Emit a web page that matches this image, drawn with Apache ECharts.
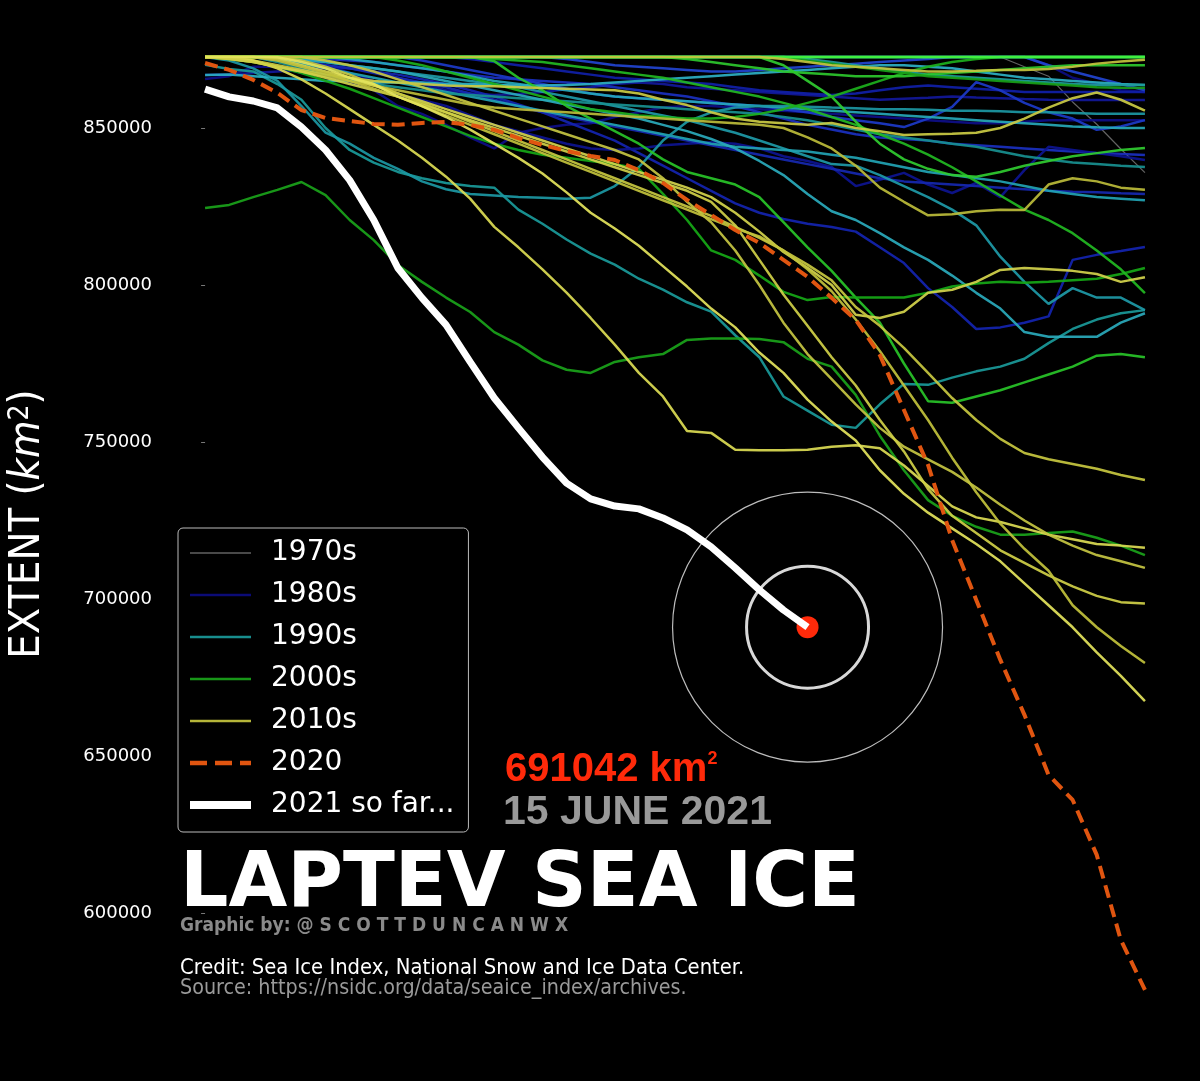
<!DOCTYPE html>
<html>
<head>
<meta charset="utf-8">
<title>Laptev Sea Ice</title>
<script src="https://cdn.jsdelivr.net/npm/echarts@6/dist/echarts.min.js"></script>
<style>
html, body { margin: 0; padding: 0; background: #000; }
#chart { width: 1200px; height: 1081px; }
</style>
</head>
<body>
<div id="chart"></div>
<script>
// extent values in thousand km2, one value per day (day 0 .. 39)
var T = 872.6; // fully ice covered

var ext1979 = [T,T,T,T,T,T,T,T,T,T, T,T,T,T,T,T,T,T,T,T, T,T,T,T,T,T,T,T,T,T, T,T,T,T,869.5,866.5,858.3,851.2,843.3,835.8];

var ext1980 = [T,T,T,T,T,T,T,T,T,T, T,T,T,T,T,T,T,T,T,T, T,T,T,T,T,T,T,T,T,T, T,T,T,T,T,870,866,864,862,861.5];
var ext1981 = [866.9,867,867.5,868,868.5,869,869,868,866,864, 862,861,860.5,860.8,861.5,862.3,863,864,864.5,864, 863,862.5,862,861.5,861,860.5,860,859.5,859,859.3, 859.6,860,859.7,859.5,859.2,859,858.9,858.9,858.9,858.9];
var ext1982 = [865.6,866.5,869.5,869.5,867.5,866.5,864.5,862,857,854.5, 851,847,843.5,848.5,850,851,851.5,853.5,855,856.5, 857,857,856.5,856,855.5,855,854.5,854,853.5,853, 852.5,852,851.5,851.5,852,852.5,852.5,852.5,852.5,852.5];
var ext1983 = [T,T,T,872,871,870,869,868,867,865.5, 864,862,860,857.5,855,852,849,846,842,838, 834,830,826,823,821,819.5,818.5,817,812,807, 799,793,786,786.5,788,790,808,809.6,810.8,812.1];
var ext1984 = [T,T,T,T,T,872,871.5,871,870,869, 868,867,866,865.5,865,864.5,864,863,862,861, 860,858.5,857,855,853,851,849.5,848,847,846.5, 846,845,844.5,844,843.5,843,842.5,842,841.7,841.4];
var ext1985 = [T,T,T,T,T,T,T,T,T,T, T,872,871,870,869,868,867,866,865.5,865, 864.5,864,863,862,861.5,861,860.5,861,862,863, 863.5,863,862.5,862,861.5,861.5,861.5,861.5,861.5,861.5];
var ext1986 = [T,T,T,T,T,T,T,T,T,871.5, 870,868.5,867,865.5,864,862.5,861,860,859.5,859, 858.5,858,857.5,857,856,855,853.5,852.5,851.5,850.3, 853,856.7,864.6,862,858,855,853,849.4,850.5,852.5];
var ext1987 = [T,T,T,T,T,870,867.5,865,860.5,858.9, 857,854,851,849,847,845,843.5,843,843.5,844.5, 845,845.5,845,843.5,841,839.5,837.6,831.5,833.5,835.7, 832,829.3,832.5,828,836.6,844,843,842,841,839.8];
var ext1988 = [T,T,T,T,T,T,T,T,T,T, T,T,T,T,T,872,871,870,869.5,869, 868.5,868,868,868.5,869,869.5,870,870.5,871,871.5, 872,T,T,T,T,870,868,866,864,862];
var ext1989 = [T,T,T,872,871,870,869,867.5,866,864.5, 863,861,859,857,855,853.5,852,850.5,849,847.5, 846,844.5,843,841.5,840,838.5,837,835.5,834,833, 832.5,832,831.5,831,830.5,830,829.7,829.5,829.2,829];

var ext1990 = [870.1,868.8,868,864,859,850,843,839,836,834, 832.5,831.5,831,824,819.5,814.5,810,806.5,802,798.5, 794.5,791.5,784,777,764.5,760,755.5,754.5,762,768.5, 768.2,770.5,772.5,774,776.5,781.5,786,789,791,792];
var ext1991 = [T,T,T,872,871.5,871,870,869,868,867, 866,865,864,863,861.5,860,858.5,857,855.5,854, 852.5,850.5,848.5,846,843.5,841,838.5,838,835,831.5, 828,824,819,809,801,794,799,796,796,792];
var ext1992 = [T,T,T,T,870.5,869,867.5,866,864.5,863, 861.5,860,858.5,857,855.5,854,852.5,851,849.5,848, 846.5,845,844,843.5,843,842.5,841.5,840.5,839,837.5, 836,835,834,833,831.5,830,829,828,827.5,827];
var ext1993 = [T,T,T,871,869,867,865.5,864,863,862, 861,860.5,860,859.5,859,858.5,858,857.5,857,856.5, 856,855.5,855,854.5,853.5,852.5,851,849.5,848,847, 846,845,844,842.5,841,840,839,838.5,838,837.6];
var ext1994 = [T,T,T,T,T,T,872,871,870,869, 868,866.5,865,864,863,862,861,860,859.5,859, 858.5,858,857.5,857,856.5,856,855.5,855,854.5,854, 853.5,853,852.5,852,851.5,851,850.5,850.2,850,850];
var ext1995 = [866.9,867,866.5,866,865.5,865,865,864.5,864.5,864.5, 864,864,863.7,863.5,863.5,863.7,864,864.5,865,865.5, 866,866.5,867,867.5,868,868.5,869,869.5,870,870, 869.5,869,868,867,866,865.5,865,864.5,864,863.7];
var ext1996 = [T,871.5,869,865,857,848.5,845,840.5,837,833, 830.5,829,828.5,828,827.8,827.5,827.8,831.5,837.5,846, 852,855,856.5,857,857,856.8,856.5,856.3,856,856, 855.8,855.5,855.5,855.3,855,855,854.8,854.5,854.5,854.5];
var ext1997 = [T,T,T,T,872,871,870,869,868,866.5, 865,863.5,862,860.5,859,857.5,856,854.5,853,851, 849,846.5,843.5,839.5,835,829,823.5,820.7,816.5,812, 808,803,797.5,792.5,785,783.5,783.5,783.5,788,791];
var ext1998 = [T,T,T,T,T,T,T,T,T,T, T,T,T,T,T,T,T,T,T,T, T,T,T,T,T,872,871,870,869,868, 867,866.5,866,865.5,865,864.5,864,863.7,863.7,863.7];
var ext1999 = [T,T,T,T,T,T,T,T,T,T, T,T,T,T,T,T,T,T,T,T, T,T,T,T,T,T,T,T,T,T, T,T,T,T,T,T,T,T,T,T];

var ext2000 = [824.5,825.5,828,830.3,832.8,828.6,820.7,814.3,806.4,801, 796,791.4,785,781,776,773,772,775.5,777,778, 782.5,783,783,782.8,781.8,776.5,774,765,752,741, 731.5,726.5,723,720.5,720.5,721,721.5,719.5,717,714];
var ext2001 = [T,T,T,T,T,T,T,T,T,T, T,T,871.3,866,862,857,853,849,845,840, 836,834,832,828,820,812,804.5,796,788,775, 763,762.5,764.5,766.5,769,771.5,774,777.5,778,777];
var ext2002 = [T,872,871,869.5,867.5,865,862.5,859.5,856.5,853.5, 850.5,847.5,845,843,841.5,840.5,839.5,838.5,837,829, 820.7,811,808,803,797.8,795.2,796.2,796,796,796, 797.5,799.5,800.5,801,800.7,801,801.5,802,803.5,805.4];
var ext2003 = [T,T,T,T,T,T,T,T,T,T, T,T,872,871.5,871,870,869,868,867,866, 864.5,863,861.5,860,858,856,853.5,851,848,845, 841.5,837.5,833,828.5,824,820.7,816.5,811,805,797.4];
var ext2004 = [T,T,T,T,T,T,T,T,T,T, T,T,T,T,T,T,T,T,T,T, T,T,T,T,870,865,860,852,845,840, 837,835,834.5,836,838,839.5,841,842,843,843.6];
var ext2005 = [T,T,T,T,T,T,T,T,871.5,870, 868,866,864,862,860,858,856,855,854,853.5, 853,853,853.5,854.5,856,858,860,862.5,865,867.5, 869.5,871,872,T,T,T,T,T,T,T];
var ext2006 = [T,T,T,T,T,T,T,T,T,T, T,T,T,T,T,T,T,T,T,T, 872,871,870,869,868,867.5,867,866.5,866.5,866.5, 867,867.5,868,868.5,869,869.5,870,870,870,870];
var ext2007 = [T,T,T,T,T,T,T,T,T,T, T,T,T,T,T,T,T,T,T,T, T,T,T,T,T,871.5,870.5,869.5,868.5,867.5, 866.5,866,865.5,865,864.5,864,863.5,863,862.8,862.7];
var ext2008 = [T,T,T,T,T,T,T,T,T,T, T,T,T,T,T,T,T,T,T,T, T,T,T,T,T,T,T,T,T,T, T,T,T,T,T,T,T,T,T,T];
var ext2009 = [T,T,T,T,T,T,T,T,T,T, T,T,T,T,T,T,T,T,T,T, T,T,T,T,T,T,T,T,T,T, T,T,T,T,T,T,T,T,T,T];

var ext2010 = [T,T,T,T,T,T,T,T,T,T, T,T,T,T,T,T,T,T,T,T, T,T,T,T,872,871,870,869.5,869,868.5, 868,868,868.2,868.5,868.5,868.8,869.5,870.5,871.2,871.7];
var ext2011 = [T,T,871.5,870,868.5,867,866,865,864.5,864, 863.5,863.3,863.3,863,862.7,862.5,862.3,862,861,859, 857.3,855,853,852,851.5,851,851.6,850,849,847.8, 848,848.2,848.5,850,853,856.5,859.5,861.3,859,855.5];
var ext2012 = [T,872,871,869.5,868,866.5,865,863.5,862,860.5, 859,857.5,856.5,856,855.5,855,854.5,854,853.5,853, 852.5,852,851.5,851,850,847,843.5,838,831,826.5, 822.2,822.5,823.5,824,823.9,832,834,833,831,830.3];
var ext2013 = [T,T,T,872,870,868,866,863.5,861,858.5, 856,853.5,851,848.5,846,843.5,841,838.5,836,833.5, 831,828,823,817,810.5,805.5,800,790.5,789.5,791.5, 797.5,798.5,801,804.8,805.4,805,804.5,803.5,801,802.5];
var ext2014 = [T,T,T,T,871.5,869.5,867,864,861,858, 855,852,849,846,843,840,837,834,831,828, 825,822,818.5,815,811,806.5,801.5,793,787,780, 772,764,757,751,746.5,744.5,743,741.5,739.5,737.9];
var ext2015 = [T,T,871.5,869,865.5,861,856,851,846,840.5, 834.5,827.5,818.5,812,805,797.6,789.5,781,772,764.5, 753.5,752.9,747.5,747.4,747.4,747.5,748.5,749,748,742.5, 736,729.5,726,724.5,722.5,720.5,719,717.5,717,716.3];
var ext2016 = [T,T,T,T,T,871.5,870,868,865.5,863, 860.5,858,855.5,853,850.5,848,845.5,843,840,834, 826.5,820,811,800,788,778,770,762,754.5,748.5, 744.5,740.5,735.5,730,725,720.5,717,714,712,709.9];
var ext2017 = [T,872,871,869.5,868,866,864,862,860,857.5, 855,852.5,850,847.5,845,842.5,840,837.5,835,832.5, 830,826.5,819,808,797,787,777,768,757,747, 735,726.5,721,715.5,711.5,707.5,704,701,699,698.6];
var ext2018 = [T,T,T,871.5,869.5,867.5,865,862.5,860,857, 854,851,848,845,842,839,836,833,830,827, 824,821,818,815.5,811,805,798,789,779,768, 757,745,734,724,716,709,698,691,685,679.6];
var ext2019 = [T,T,T,872.5,871,869,866,864,860,857, 853.5,849.5,845,840.5,835.5,829.5,823,818,812.5,806, 799.5,792.5,786.5,778.5,772,763.5,756.5,750.5,741,733.5, 727.5,722.5,717.5,712,705,698,691,683,675.5,667.5];

var ext2020 = [870.7,868.5,865.3,861.2,855.7,853.2,852.2,851.3,851,851.6, 851.9,851,849.4,846.8,844.6,842.7,841.1,839.8,836.6,832.5, 827.1,822.3,817.5,813.4,808,802.6,795.9,788.9,777.7,760.2, 742.7,718.8,699.7,680.6,663.1,644,636,618.5,591.4,575.5];
var ext2021 = [862.4,859.9,858.6,856.4,850.3,843,833.4,820.7,805.4,795.9, 787.3,775.5,764,754.5,745.2,736.9,731.9,729.6,728.7,725.8, 722,716.6,709.9,702.9,696.5,691.042];

var yTicks = [600000, 650000, 700000, 750000, 800000, 850000];
var legendNames = ['1970s', '1980s', '1990s', '2000s', '2010s', '2020', '2021 so far...'];

var decades = [
  { name: '1970s', years: [ext1979], width: 1.2, colors: ['#6a6a6a'] },
  { name: '1980s', years: [ext1980, ext1981, ext1982, ext1983, ext1984, ext1985, ext1986, ext1987, ext1988, ext1989], width: 2.5,
    colors: ['#0c0c80', '#12189a', '#0e0e88', '#1424b0', '#1a30c0', '#1020a8', '#1c3ac8', '#0d1490', '#2244d0', '#1628b0'] },
  { name: '1990s', years: [ext1990, ext1991, ext1992, ext1993, ext1994, ext1995, ext1996, ext1997, ext1998, ext1999], width: 2.5,
    colors: ['#1a9a9a', '#1e9aa8', '#22a4b4', '#189090', '#26a8b8', '#2cb0c4', '#1c98a4', '#2aaabc', '#1e9c9c', '#34b8cc'] },
  { name: '2000s', years: [ext2000, ext2001, ext2002, ext2003, ext2004, ext2005, ext2006, ext2007, ext2008, ext2009], width: 2.5,
    colors: ['#1aa31a', '#28c428', '#16a816', '#22b822', '#30cc30', '#1cb01c', '#2cc82c', '#18a018', '#3ae03a', '#40f040'] },
  { name: '2010s', years: [ext2010, ext2011, ext2012, ext2013, ext2014, ext2015, ext2016, ext2017, ext2018, ext2019], width: 2.5,
    colors: ['#c4c43e', '#cccc44', '#bcbc3a', '#d4d44c', '#c8c840', '#dcdc54', '#c6c642', '#d0d048', '#c2c23c', '#e4e45c'] }
];

function pts(vals) {
  return vals.map(function (v, i) { return [i, Math.round(v * 1000)]; });
}

var series = [];
decades.forEach(function (d) {
  d.years.forEach(function (vals, k) {
    series.push({
      name: d.name,
      type: 'line',
      data: pts(vals),
      symbol: 'none',
      silent: true,
      lineStyle: { color: d.colors[k], width: d.width, opacity: 0.92 },
      itemStyle: { color: d.colors[k] }
    });
  });
});

var lastDay = ext2021.length - 1;
var lastVal = Math.round(ext2021[lastDay] * 1000);

series.push({
  name: '2020', type: 'line', data: pts(ext2020), symbol: 'none', silent: true,
  lineStyle: { color: '#e05510', width: 4, type: [13, 7] },
  itemStyle: { color: '#e05510' }
});
series.push({
  name: 'ring outer', type: 'scatter', data: [[lastDay, lastVal]], symbolSize: 270, silent: true,
  itemStyle: { color: 'rgba(0,0,0,0)', borderColor: '#bdbdbd', borderWidth: 1.2, opacity: 1 }
});
series.push({
  name: 'ring inner', type: 'scatter', data: [[lastDay, lastVal]], symbolSize: 122, silent: true,
  itemStyle: { color: 'rgba(0,0,0,0)', borderColor: '#d8d8d8', borderWidth: 3, opacity: 1 }
});
series.push({
  name: '2021 so far...', type: 'line', data: pts(ext2021), symbol: 'none', silent: true,
  lineStyle: { color: '#ffffff', width: 7 },
  itemStyle: { color: '#ffffff' }
});
series.push({
  name: 'today', type: 'scatter', data: [[lastDay, lastVal]], symbolSize: 22, silent: true,
  itemStyle: { color: '#ff2a0a', opacity: 1 }
});

var legendData = legendNames.map(function (n) {
  var ls = { width: 2.5 };
  if (n === '1970s') ls = { width: 1.5, color: '#6a6a6a' };
  if (n === '1980s') ls = { width: 2.5, color: '#0c0c80' };
  if (n === '2020') ls = { width: 4.5, color: '#e05510', type: [17, 8] };
  if (n === '2021 so far...') ls = { width: 8, color: '#ffffff' };
  return { name: n, lineStyle: ls };
});

var chart = echarts.init(document.getElementById('chart'));
chart.setOption({
  backgroundColor: '#000',
  animation: false,
  grid: { left: 160, right: 10, top: 2.4, height: 1036.2 },
  xAxis: { type: 'value', min: -1.87, max: 40.87, show: false },
  yAxis: {
    type: 'value', min: 560000, max: 890000,
    splitLine: { show: false },
    axisLine: { show: false },
    axisTick: { show: true, length: 4, lineStyle: { color: '#777' }, customValues: yTicks },
    axisLabel: {
      color: '#fff', fontSize: 18, fontFamily: 'DejaVu Sans', margin: 8, customValues: yTicks,
      formatter: function (v) { return String(v); }
    }
  },
  legend: {
    data: legendData,
    orient: 'vertical', left: 178, top: 528,
    itemWidth: 61, itemHeight: 14, itemGap: 12,
    padding: [10, 14, 12, 8],
    backgroundColor: '#000', borderColor: '#bbbbbb', borderWidth: 1, borderRadius: 5,
    selectedMode: false,
    itemStyle: { opacity: 0 },
    textStyle: { color: '#fff', fontSize: 28, fontFamily: 'DejaVu Sans', lineHeight: 30, padding: [0, 0, 0, 15] }
  },
  graphic: [
    {
      type: 'text', x: 28, y: 524, rotation: Math.PI / 2,
      style: {
        text: '{a|EXTENT (}{b|km}{c|2}{a|)}',
        align: 'center', verticalAlign: 'middle',
        rich: {
          a: { fill: '#fff', fontSize: 43, fontFamily: 'DejaVu Sans Condensed, DejaVu Sans' },
          b: { fill: '#fff', fontSize: 43, fontStyle: 'italic', fontFamily: 'DejaVu Sans Condensed, DejaVu Sans' },
          c: { fill: '#fff', fontSize: 28, verticalAlign: 'top', fontFamily: 'DejaVu Sans Condensed, DejaVu Sans' }
        }
      }
    },
    {
      type: 'text', x: 505, y: 770,
      style: {
        text: '{v|' + lastVal + ' km}{s|2}',
        align: 'left', verticalAlign: 'middle',
        rich: {
          v: { fill: '#ff2a0a', fontSize: 40, fontWeight: 'bold', fontFamily: 'Liberation Sans' },
          s: { fill: '#ff2a0a', fontSize: 18, fontWeight: 'bold', fontFamily: 'Liberation Sans', verticalAlign: 'top' }
        }
      }
    },
    {
      type: 'text', x: 503, y: 813,
      style: { text: '15 JUNE 2021', fill: '#999999', font: 'bold 41px "Liberation Sans"', align: 'left', verticalAlign: 'middle' }
    },
    {
      type: 'text', x: 180, y: 886,
      style: { text: 'LAPTEV SEA ICE', fill: '#ffffff', font: 'bold 76px "DejaVu Sans"', align: 'left', verticalAlign: 'middle' }
    },
    {
      type: 'text', x: 180, y: 926,
      style: { text: 'Graphic by: @ S C O T T D U N C A N W X', fill: '#8a8a8a', font: 'bold 19px "DejaVu Sans Condensed", "DejaVu Sans"', align: 'left', verticalAlign: 'middle' }
    },
    {
      type: 'text', x: 180, y: 968,
      style: { text: 'Credit: Sea Ice Index, National Snow and Ice Data Center.', fill: '#ffffff', font: '21.8px "DejaVu Sans Condensed", "DejaVu Sans"', align: 'left', verticalAlign: 'middle' }
    },
    {
      type: 'text', x: 180, y: 988,
      style: { text: 'Source: https://nsidc.org/data/seaice_index/archives.', fill: '#9a9a9a', font: '21.3px "DejaVu Sans Condensed", "DejaVu Sans"', align: 'left', verticalAlign: 'middle' }
    }
  ],
  series: series
});
</script>
</body>
</html>
